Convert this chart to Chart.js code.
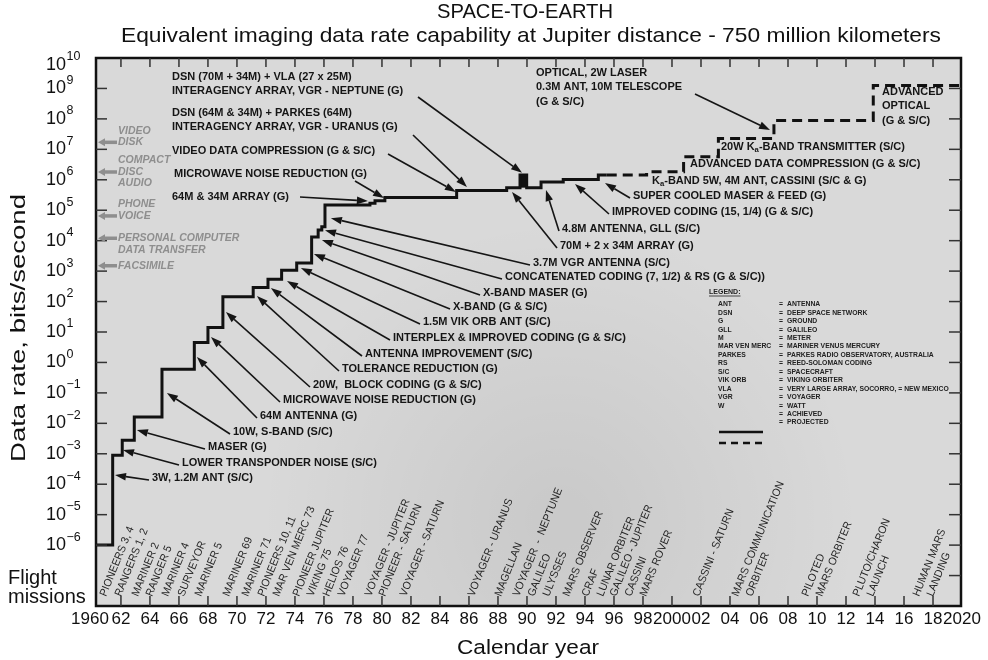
<!DOCTYPE html>
<html>
<head>
<meta charset="utf-8">
<script src="https://cdn.jsdelivr.net/npm/chart.js@4.4.1/dist/chart.umd.min.js"></script>
<style>
  html, body { margin: 0; padding: 0; background: #fff; }
  #wrap { width: 988px; height: 660px; }
</style>
</head>
<body>
<div id="wrap"><canvas id="c" width="988" height="660"></canvas></div>
<script>
// Achieved capability: year at which each new level begins and the new rate (bits/s)
const achievedYears = [1960, 1961.43, 1962.09, 1962.92, 1964.83, 1967.06, 1968.0, 1969.03, 1971.12, 1972.14,
  1973.08, 1974.12, 1975.15, 1975.6, 1975.85, 1976.07, 1979.17, 1979.52, 1980.2, 1985.15,
  1988.6, 1989.52, 1989.98, 1990.97, 1992.5, 1994.92, 1995.5];
const achievedRates = [1e-6, 9e-4, 2.8e-3, 1.6e-2, 0.6, 4.5, 14, 145, 290, 540,
  1070, 1860, 13200, 22400, 28800, 148000, 168000, 204000, 263000, 447000,
  550000, 1.43e6, 550000, 851000, 1.02e6, 1.43e6, 1.43e6];

// Projected capability
const projectedYears = [1995.5, 1998.25, 2000.8, 2003.2, 2007.03, 2013.88, 2020];
const projectedRates = [1.43e6, 1.82e6, 5.75e6, 2.29e7, 8.9e7, 1.26e9, 1.26e9];

// Voyager Neptune encounter peak
const neptuneYears = [1989.75, 1989.75];
const neptuneRates = [5.5e5, 1.43e6];

// Axis ticks
const yearTickValues = [1960, 1962, 1964, 1966, 1968, 1970, 1972, 1974, 1976, 1978, 1980, 1982, 1984, 1986, 1988,
  1990, 1992, 1994, 1996, 1998, 2000, 2002, 2004, 2006, 2008, 2010, 2012, 2014, 2016, 2018, 2020];
const yearTickLabels = ['1960', '62', '64', '66', '68', '70', '72', '74', '76', '78', '80', '82', '84', '86', '88',
  '90', '92', '94', '96', '98', '2000', '02', '04', '06', '08', '10', '12', '14', '16', '18', '2020'];
const decadeExponents = [-6, -5, -4, -3, -2, -1, 0, 1, 2, 3, 4, 5, 6, 7, 8, 9, 10];

// Flight missions along the time axis
const missionNames = ['PIONEERS 3, 4', 'RANGERS 1, 2', 'MARINER 2', 'RANGER 5', 'MARINER 4', 'SURVEYOR', 'MARINER 5',
  'MARINER 69', 'MARINER 71', 'PIONEERS 10, 11', 'MAR VEN MERC 73', 'PIONEER JUPITER', 'VIKING 75', 'HELIOS 76',
  'VOYAGER 77', 'VOYAGER - JUPITER\nPIONEER - SATURN', 'VOYAGER - SATURN', 'VOYAGER - URANUS', 'MAGELLAN',
  'VOYAGER  -  NEPTUNE', 'GALILEO', 'ULYSSES', 'MARS OBSERVER', 'CRAF', 'LUNAR ORBITER', 'GALILEO - JUPITER',
  'CASSINI', 'MARS ROVER', 'CASSINI - SATURN', 'MARS COMMUNICATION\nORBITER', 'PILOTED\nMARS ORBITER',
  'PLUTO/CHARON\nLAUNCH', 'HUMAN MARS\nLANDING'];
const missionYears = [1960.97, 1962.0, 1963.17, 1964.14, 1965.24, 1966.34, 1967.52,
  1969.45, 1970.76, 1971.86, 1972.9, 1974.28, 1975.24, 1976.34,
  1977.38, 1979.24, 1981.66, 1986.34, 1988.2,
  1989.45, 1990.48, 1991.52, 1992.9, 1994.21, 1995.24, 1996.14,
  1997.17, 1998.2, 2001.86, 2004.55, 2009.38,
  2012.9, 2017.03];

// Everyday data rates for comparison (left margin)
const referenceNames = ['VIDEO\nDISK', 'COMPACT\nDISC\nAUDIO', 'PHONE\nVOICE', 'PERSONAL COMPUTER\nDATA TRANSFER', 'FACSIMILE'];
const referenceRates = [1.7e7, 1.8e6, 6.5e4, 1.2e4, 1.5e3];

// Legend abbreviations
const legendAbbr = ['ANT', 'DSN', 'G', 'GLL', 'M', 'MAR VEN MERC', 'PARKES', 'RS', 'S/C', 'VIK ORB', 'VLA', 'VGR', 'W', '', ''];
const legendMeaning = ['ANTENNA', 'DEEP SPACE NETWORK', 'GROUND', 'GALILEO', 'METER', 'MARINER VENUS MERCURY',
  'PARKES RADIO OBSERVATORY, AUSTRALIA', 'REED-SOLOMAN CODING', 'SPACECRAFT', 'VIKING ORBITER',
  'VERY LARGE ARRAY, SOCORRO, = NEW MEXICO', 'VOYAGER', 'WATT', 'ACHIEVED', 'PROJECTED'];

// Callout labels: text lines, label anchor (px), optional leader start (px) and tip (year, rate)
const callouts = [
  { lines: ['DSN (70M + 34M) + VLA (27 x 25M)', 'INTERAGENCY ARRAY, VGR - NEPTUNE (G)'], x: 172, y: 77, from: [418, 97], tip: [1989.66, 1.7e6] },
  { lines: ['DSN (64M & 34M) + PARKES (64M)', 'INTERAGENCY ARRAY, VGR - URANUS (G)'], x: 172, y: 113, from: [413, 135], tip: [1985.86, 5.8e5] },
  { lines: ['VIDEO DATA COMPRESSION (G & S/C)'], x: 172, y: 151, from: [388, 154], tip: [1985.1, 4.0e5] },
  { lines: ['MICROWAVE NOISE REDUCTION (G)'], x: 174, y: 174, from: [355, 181], tip: [1980.14, 2.5e5] },
  { lines: ['64M & 34M ARRAY (G)'], x: 172, y: 197, from: [300, 197], tip: [1979.03, 2.0e5] },
  { lines: ['OPTICAL, 2W LASER', '0.3M ANT, 10M TELESCOPE', '(G & S/C)'], x: 536, y: 73, from: [695, 94], tip: [2006.76, 4.3e7] },
  { lines: ['ADVANCED', 'OPTICAL', '(G & S/C)'], x: 882, y: 92 },
  { lines: ['20W K_a-BAND TRANSMITTER (S/C)'], x: 721, y: 147 },
  { lines: ['ADVANCED DATA COMPRESSION (G & S/C)'], x: 690, y: 164 },
  { lines: ['K_a-BAND 5W, 4M ANT, CASSINI (S/C & G)'], x: 652, y: 181 },
  { lines: ['SUPER COOLED MASER & FEED (G)'], x: 633, y: 196, from: 'left', tip: [1995.38, 7.8e5] },
  { lines: ['IMPROVED CODING (15, 1/4) (G & S/C)'], x: 612, y: 212, from: 'left', tip: [1993.31, 7.3e5] },
  { lines: ['4.8M ANTENNA, GLL (S/C)'], x: 562, y: 229, from: 'left', tip: [1991.31, 4.6e5] },
  { lines: ['70M + 2 x 34M ARRAY (G)'], x: 560, y: 246, from: 'left', tip: [1988.97, 4.0e5] },
  { lines: ['3.7M VGR ANTENNA (S/C)'], x: 533, y: 263, from: 'left', tip: [1976.48, 5.5e4] },
  { lines: ['CONCATENATED CODING (7, 1/2) & RS (G & S/C))'], x: 505, y: 277, from: 'left', tip: [1976.07, 2.2e4] },
  { lines: ['X-BAND MASER (G)'], x: 483, y: 293, from: 'left', tip: [1975.86, 1.05e4] },
  { lines: ['X-BAND (G & S/C)'], x: 453, y: 307, from: 'left', tip: [1975.31, 3650] },
  { lines: ['1.5M VIK ORB ANT (S/C)'], x: 423, y: 322, from: 'left', tip: [1974.41, 1265] },
  { lines: ['INTERPLEX & IMPROVED CODING (G & S/C)'], x: 393, y: 338, from: 'left', tip: [1973.45, 473] },
  { lines: ['ANTENNA IMPROVEMENT (S/C)'], x: 365, y: 354, from: 'left', tip: [1972.34, 279] },
  { lines: ['TOLERANCE REDUCTION (G)'], x: 342, y: 369, from: 'left', tip: [1971.38, 152] },
  { lines: ['20W,  BLOCK CODING (G & S/C)'], x: 313, y: 385, from: 'left', tip: [1969.24, 45] },
  { lines: ['MICROWAVE NOISE REDUCTION (G)'], x: 283, y: 400, from: 'left', tip: [1968.21, 6.9] },
  { lines: ['64M ANTENNA (G)'], x: 260, y: 416, from: 'left', tip: [1967.24, 1.5] },
  { lines: ['10W, S-BAND (S/C)'], x: 233, y: 432, from: 'left', tip: [1965.17, 0.099] },
  { lines: ['MASER (G)'], x: 208, y: 447, from: 'left', tip: [1963.1, 6.0e-3] },
  { lines: ['LOWER TRANSPONDER NOISE (S/C)'], x: 182, y: 463, from: 'left', tip: [1962.14, 1.33e-3] },
  { lines: ['3W, 1.2M ANT (S/C)'], x: 152, y: 478, from: 'left', tip: [1961.59, 2.0e-4] }
];

const FONT = '"Liberation Sans", Arial, Helvetica, sans-serif';

function toPoints(xs, ys) { return xs.map((x, i) => ({ x: x, y: ys[i] })); }

// Centered text squeezed or stretched horizontally to a given width
function fitText(ctx, text, cx, cy, width, font, angle) {
  ctx.save();
  ctx.font = font;
  ctx.textAlign = 'center';
  ctx.textBaseline = 'middle';
  const w = ctx.measureText(text).width;
  ctx.translate(cx, cy);
  if (angle) ctx.rotate(angle);
  ctx.scale(width / w, 1);
  ctx.fillText(text, 0, 0);
  ctx.restore();
}

// Draws text where "_a" marks a subscript "a" (K-band notation)
function richText(ctx, text, x, y, size) {
  const parts = text.split('_a');
  let cx = x;
  parts.forEach((p, i) => {
    if (i > 0) {
      ctx.font = 'bold ' + (size * 0.7) + 'px ' + FONT;
      ctx.fillText('a', cx, y + size * 0.3);
      cx += ctx.measureText('a').width;
    }
    ctx.font = 'bold ' + size + 'px ' + FONT;
    ctx.fillText(p, cx, y);
    cx += ctx.measureText(p).width;
  });
}

function arrow(ctx, x1, y1, x2, y2, len, half, color, width) {
  const a = Math.atan2(y2 - y1, x2 - x1);
  const bx = x2 - Math.cos(a) * len, by = y2 - Math.sin(a) * len;
  ctx.strokeStyle = color; ctx.fillStyle = color; ctx.lineWidth = width;
  ctx.beginPath(); ctx.moveTo(x1, y1); ctx.lineTo(bx, by); ctx.stroke();
  ctx.beginPath();
  ctx.moveTo(x2, y2);
  ctx.lineTo(bx + Math.sin(a) * half, by - Math.cos(a) * half);
  ctx.lineTo(bx - Math.sin(a) * half, by + Math.cos(a) * half);
  ctx.closePath(); ctx.fill();
}

const backdrop = {
  id: 'backdrop',
  beforeDraw(chart) {
    const { ctx, chartArea: a } = chart;
    ctx.save();
    ctx.fillStyle = '#ffffff';
    ctx.fillRect(0, 0, chart.width, chart.height);
    ctx.fillStyle = '#d9d9d9';
    ctx.fillRect(a.left, a.top, a.right - a.left, a.bottom - a.top);
    const g = ctx.createRadialGradient(560, 520, 20, 560, 520, 300);
    g.addColorStop(0, 'rgba(0,0,0,0.07)');
    g.addColorStop(1, 'rgba(0,0,0,0)');
    ctx.fillStyle = g;
    ctx.fillRect(a.left, a.top, a.right - a.left, a.bottom - a.top);
    ctx.restore();
  }
};

const decorations = {
  id: 'decorations',
  afterDraw(chart) {
    const { ctx, chartArea: a } = chart;
    const xs = chart.scales.x, ys = chart.scales.y;
    ctx.save();

    // frame
    ctx.strokeStyle = '#111'; ctx.lineWidth = 2.5;
    ctx.strokeRect(a.left, a.top, a.right - a.left, a.bottom - a.top);

    // ticks on all four sides
    ctx.lineWidth = 1.5; ctx.strokeStyle = '#333';
    yearTickValues.forEach(v => {
      if (v <= 1960 || v >= 2020) return;
      const x = xs.getPixelForValue(v);
      ctx.beginPath(); ctx.moveTo(x, a.top); ctx.lineTo(x, a.top + 9); ctx.stroke();
      ctx.beginPath(); ctx.moveTo(x, a.bottom); ctx.lineTo(x, a.bottom - 10); ctx.stroke();
    });
    [-6, -5, -4, -3, -2, -1, 0, 1, 2, 3, 4, 5, 6, 7, 8, 9].forEach(e => {
      const y = ys.getPixelForValue(Math.pow(10, e));
      ctx.beginPath(); ctx.moveTo(a.left, y); ctx.lineTo(a.left + 11, y); ctx.stroke();
    });
    [-7, -6, -5, -4, -3, -2, -1, 0, 1, 2, 3, 4, 5, 6, 7, 8, 9].forEach(e => {
      const y = ys.getPixelForValue(Math.pow(10, e));
      ctx.beginPath(); ctx.moveTo(a.right - 12, y); ctx.lineTo(a.right, y); ctx.stroke();
    });

    // y tick labels: 10 with superscript exponent
    ctx.fillStyle = '#111'; ctx.textBaseline = 'middle'; ctx.textAlign = 'left';
    decadeExponents.forEach(e => {
      let y = ys.getPixelForValue(Math.pow(10, e));
      if (e === 10) y = a.top + 7;
      ctx.font = '18px ' + FONT;
      ctx.fillText('10', 46, y);
      const w = ctx.measureText('10').width;
      ctx.font = '12.5px ' + FONT;
      ctx.fillText(String(e).replace('-', '\u2212'), 46 + w + 0.5, y - 8);
    });

    // x tick labels
    ctx.font = '17px ' + FONT; ctx.textAlign = 'center';
    yearTickValues.forEach((v, i) => {
      let x = xs.getPixelForValue(v);
      if (v === 1960) x -= 2;
      ctx.fillText(yearTickLabels[i], x, 619);
    });

    // titles
    fitText(ctx, 'SPACE-TO-EARTH', 525, 13, 176, '19.5px ' + FONT);
    fitText(ctx, 'Equivalent imaging data rate capability at Jupiter distance - 750 million kilometers', 531, 36, 820, '21px ' + FONT);
    fitText(ctx, 'Calendar year', 528, 648, 142, '20.5px ' + FONT);
    fitText(ctx, 'Data rate, bits/second', 19, 328, 268, '21px ' + FONT, -Math.PI / 2);
    ctx.textAlign = 'left';
    ctx.textBaseline = 'middle';
    ctx.font = '20px ' + FONT;
    ctx.fillText('Flight', 8, 578);
    ctx.fillText('missions', 8, 597);

    // everyday reference rates (grey, left margin)
    referenceNames.forEach((name, i) => {
      const y = ys.getPixelForValue(referenceRates[i]);
      arrow(ctx, a.left + 21, y, a.left + 2, y, 7, 4, '#8e8e8e', 3.5);
      const lines = name.split('\n');
      const anchor = (i === 0) ? lines.length - 1 : (i === 1 ? 1 : (i === 2 ? 1 : 0));
      ctx.fillStyle = '#8e8e8e';
      ctx.font = 'italic bold 10.5px ' + FONT;
      ctx.textBaseline = 'middle';
      lines.forEach((ln, j) => ctx.fillText(ln, 118, y + (j - anchor) * 11.5));
    });

    // callouts with leader arrows
    ctx.textBaseline = 'middle';
    callouts.forEach(c => {
      ctx.fillStyle = '#151515';
      c.lines.forEach((ln, j) => richText(ctx, ln, c.x, c.y + j * 14.3, 11));
      if (c.tip) {
        const from = c.from === 'left' ? [c.x - 3, c.y + 2] : c.from;
        const tx = xs.getPixelForValue(c.tip[0]);
        const ty = ys.getPixelForValue(c.tip[1]);
        arrow(ctx, from[0], from[1], tx, ty, 11, 3.8, '#151515', 1.6);
      }
    });

    // flight missions, slanted
    ctx.fillStyle = '#262626';
    ctx.font = '11px ' + FONT;
    ctx.textBaseline = 'alphabetic';
    missionNames.forEach((name, i) => {
      name.split('\n').forEach((ln, j) => {
        const x0 = xs.getPixelForValue(missionYears[i]) + j * 14;
        ctx.save();
        ctx.translate(x0, 597);
        ctx.rotate(-68 * Math.PI / 180);
        ctx.scale(0.95, 1);
        ctx.fillText(ln, 0, 0);
        ctx.restore();
      });
    });

    // legend
    ctx.fillStyle = '#222';
    ctx.font = 'bold 7px ' + FONT;
    ctx.textBaseline = 'middle';
    ctx.fillText('LEGEND:', 709, 292);
    const lw = ctx.measureText('LEGEND:').width;
    ctx.lineWidth = 0.8; ctx.strokeStyle = '#222';
    ctx.beginPath(); ctx.moveTo(709, 296); ctx.lineTo(709 + lw, 296); ctx.stroke();
    ctx.font = 'bold 6.8px ' + FONT;
    legendMeaning.forEach((m, i) => {
      const y = 304.3 + i * 8.45;
      if (legendAbbr[i]) ctx.fillText(legendAbbr[i], 718, y);
      ctx.fillText('=', 779, y);
      ctx.fillText(m, 787, y);
    });
    ctx.strokeStyle = '#111'; ctx.lineWidth = 2.5;
    ctx.beginPath(); ctx.moveTo(719, 432); ctx.lineTo(763, 432); ctx.stroke();
    ctx.setLineDash([7, 5]);
    ctx.beginPath(); ctx.moveTo(719, 443); ctx.lineTo(763, 443); ctx.stroke();
    ctx.setLineDash([]);

    ctx.restore();
  }
};

new Chart(document.getElementById('c'), {
  type: 'line',
  data: {
    datasets: [
      { label: 'Achieved', data: toPoints(achievedYears, achievedRates), stepped: true,
        borderColor: '#111', borderWidth: 3, pointRadius: 0, fill: false },
      { label: 'Projected', data: toPoints(projectedYears, projectedRates), stepped: true,
        borderColor: '#111', borderWidth: 3, borderDash: [10, 6], pointRadius: 0, fill: false },
      { label: 'Neptune encounter', data: toPoints(neptuneYears, neptuneRates),
        borderColor: '#111', borderWidth: 7, borderCapStyle: 'butt', pointRadius: 0, fill: false }
    ]
  },
  options: {
    responsive: false,
    animation: false,
    layout: { padding: { left: 96, top: 58, right: 27, bottom: 54 } },
    scales: {
      x: { type: 'linear', min: 1960.28, max: 2019.93, display: false },
      y: { type: 'logarithmic', min: 1e-8, max: 1e10, display: false }
    },
    plugins: { legend: { display: false }, tooltip: { enabled: false } },
    elements: { line: { tension: 0, borderJoinStyle: 'miter' } }
  },
  plugins: [backdrop, decorations]
});
</script>
</body>
</html>
